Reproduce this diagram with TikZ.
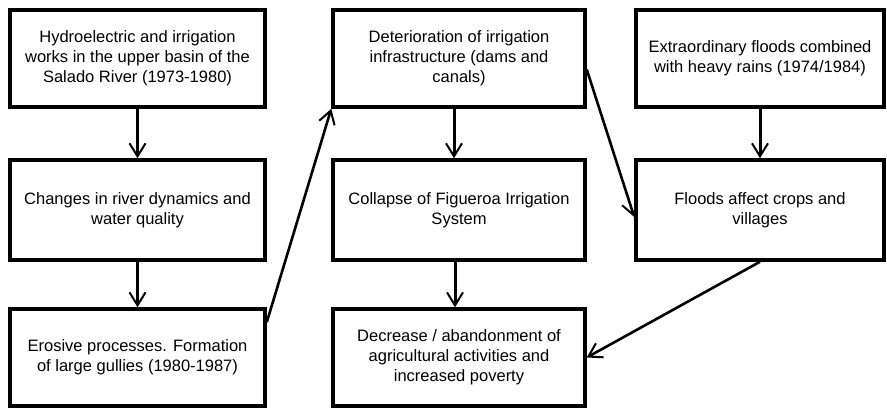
\documentclass[tikz,border=0pt]{standalone}
\usepackage{fontspec}
\setmainfont{Liberation Sans}
\usetikzlibrary{arrows.meta}

\begin{document}
\begin{tikzpicture}[x=1pt,y=-1pt,
    cause/.style={draw,line width=3.5pt,align=center,inner sep=0pt,
      font=\fontsize{16.5}{20}\selectfont},
    flow/.style={line width=3pt,-{Straight Barb[length=13pt,width=16pt,line width=2pt]}}]
    \useasboundingbox (0,0) rectangle (887,412);
    \node[cause,minimum width=255pt,minimum height=97pt] (works) at (137.5,58.5)
      {Hydroelectric and irrigation\\works in the upper basin of the\\Salado River (1973-1980)};
    \node[cause,minimum width=255pt,minimum height=100pt] (river) at (137.5,210)
      {Changes in river dynamics and\\water quality};
    \node[cause,minimum width=255pt,minimum height=97pt] (erosion) at (137.5,357.5)
      {Erosive processes. Formation\\of large gullies (1980-1987)};
    \node[cause,minimum width=252pt,minimum height=97pt] (infra) at (459,58.5)
      {Deterioration of irrigation\\infrastructure (dams and\\canals)};
    \node[cause,minimum width=252pt,minimum height=100pt] (collapse) at (459,210)
      {Collapse of Figueroa Irrigation\\System};
    \node[cause,minimum width=252pt,minimum height=97pt] (decline) at (459,357.5)
      {Decrease / abandonment of\\agricultural activities and\\increased poverty};
    \node[cause,minimum width=248pt,minimum height=97pt] (floods) at (760,58.5)
      {Extraordinary floods combined\\with heavy rains (1974/1984)};
    \node[cause,minimum width=248pt,minimum height=100pt] (crops) at (760,210)
      {Floods affect crops and\\villages};
    \draw[flow] (works) -- (river);
    \draw[flow] (river) -- (erosion);
    \draw[flow,line width=2.6pt] ([yshift=-15pt]erosion.north east) -- (infra.south west);
    \draw[flow] ([xshift=-5pt]infra.south) -- ([xshift=-5pt]collapse.north);
    \draw[flow] ([xshift=-4pt]collapse.south) -- ([xshift=-4pt]decline.north);
    \draw[flow,line width=2.6pt] ([yshift=-11pt]infra.east) -- ([yshift=-7pt]crops.west);
    \draw[flow] (floods) -- (crops);
    \draw[flow,line width=2.6pt] (crops.south) -- (decline.east);
  \end{tikzpicture}
\end{document}
